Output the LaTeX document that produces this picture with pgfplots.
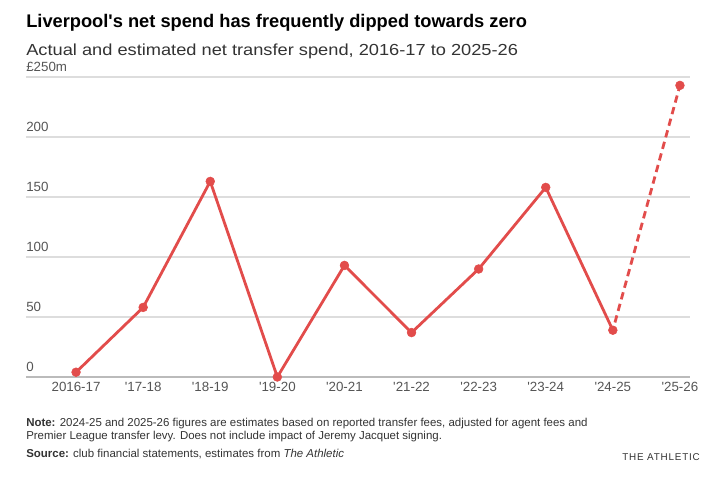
\documentclass[border=0pt]{standalone}
\usepackage{fontspec}
\setmainfont{Liberation Sans}
\newfontfamily\wide[FakeStretch=1.14]{Liberation Sans}
\newfontfamily\spaced[LetterSpace=8]{Liberation Sans}
\usepackage{pgfplots}
\pgfplotsset{compat=1.18}
\definecolor{lfc}{HTML}{E24C4B}
\definecolor{gridc}{HTML}{DDDDDD}
\definecolor{basec}{HTML}{BBBBBB}
\definecolor{labc}{HTML}{555555}
\definecolor{txtc}{HTML}{333333}
\begin{document}
\begin{tikzpicture}[x=0.75pt,y=-0.75pt]
\path[use as bounding box] (0,0) rectangle (726,477);

% title block
\node[anchor=base west, inner sep=0pt, text=black, font=\fontsize{13.7}{16}\selectfont\bfseries]
  at (26,28) {Liverpool\textquotesingle s net spend has frequently dipped towards zero};
\node[anchor=base west, inner sep=0pt, text=txtc, font=\wide\fontsize{12}{14}\selectfont]
  at (26,56) {Actual and estimated net transfer spend, 2016-17 to 2025-26};

\begin{axis}[
  at={(19.5pt,-282.75pt)}, anchor=south west,
  scale only axis, width=498pt, height=225pt,
  xmin=-0.746, xmax=9.15, ymin=0, ymax=250,
  clip=false,
  axis line style={draw=none}, tick style={draw=none},
  xtick={0,...,9},
  xticklabels={2016-17,\textquotesingle 17-18,\textquotesingle 18-19,\textquotesingle 19-20,\textquotesingle 20-21,\textquotesingle 21-22,\textquotesingle 22-23,\textquotesingle 23-24,\textquotesingle 24-25,\textquotesingle 25-26},
  ytick={50,100,150,200,250},
  yticklabels={50,100,150,200,£250m},
  extra y ticks={0}, extra y tick labels={0},
  extra y tick style={grid style={basec, line width=1.5pt}},
  ymajorgrids, grid style={gridc, line width=1.5pt},
  yticklabel style={anchor=south west, inner sep=0pt, yshift=3.5pt},
  xticklabel style={inner sep=0pt, yshift=-4pt, anchor=north},
  ticklabel style={text=labc, font=\fontsize{10}{12}\selectfont},
  /pgf/number format/assume math mode=true,
]
% actual net spend
\addplot[lfc, line width=2.1pt, mark=*, mark size=3.3pt, mark options={solid, line width=0.4pt}]
  coordinates {(0,4) (1,58) (2,163) (3,0) (4,93) (5,37) (6,90) (7,158) (8,39)};
% estimate for 2025-26
\addplot[lfc, line width=2.1pt, dash pattern=on 5.5pt off 3.5pt, shorten <=6pt]
  coordinates {(8,39) (9,243)};
\addplot[lfc, only marks, mark=*, mark size=3.3pt, mark options={line width=0.4pt}]
  coordinates {(9,243)};
\end{axis}

% notes
\node[anchor=base west, inner sep=0pt, text=txtc, font=\fontsize{8.6}{10}\selectfont]
  at (26,427) {\textbf{Note:} 2024-25 and 2025-26 figures are estimates based on reported transfer fees, adjusted for agent fees and};
\node[anchor=base west, inner sep=0pt, text=txtc, font=\fontsize{8.6}{10}\selectfont]
  at (26,440) {Premier League transfer levy. Does not include impact of Jeremy Jacquet signing.};
\node[anchor=base west, inner sep=0pt, text=txtc, font=\fontsize{8.6}{10}\selectfont]
  at (26,458) {\textbf{Source:} club financial statements, estimates from \textit{The Athletic}};
\node[anchor=base east, inner sep=0pt, text=txtc, font=\spaced\fontsize{7.4}{9}\selectfont]
  at (700,461) {THE ATHLETIC};
\end{tikzpicture}
\end{document}
